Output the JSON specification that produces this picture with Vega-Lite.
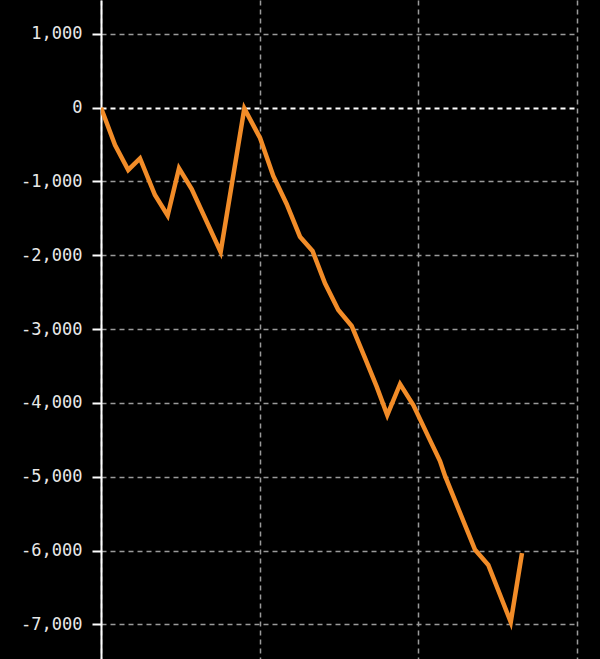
{
  "$schema": "https://vega.github.io/schema/vega-lite/v6.json",
  "autosize": "none",
  "width": 476,
  "height": 659,
  "padding": {"left": 101, "top": 0, "right": 23, "bottom": 0},
  "background": "#000000",
  "config": {"view": {"stroke": null}},
  "data": {
    "values": [
      {"t": 0.0, "v": 0},
      {"t": 1.06, "v": -505},
      {"t": 2.06, "v": -844},
      {"t": 2.95, "v": -688},
      {"t": 4.08, "v": -1183},
      {"t": 5.04, "v": -1461},
      {"t": 5.9, "v": -821},
      {"t": 6.86, "v": -1102},
      {"t": 9.05, "v": -1955},
      {"t": 10.84, "v": -10},
      {"t": 12.03, "v": -411},
      {"t": 13.03, "v": -925},
      {"t": 14.04, "v": -1305},
      {"t": 15.05, "v": -1748},
      {"t": 16.0, "v": -1942},
      {"t": 16.94, "v": -2379},
      {"t": 17.95, "v": -2741},
      {"t": 18.96, "v": -2958},
      {"t": 19.97, "v": -3392},
      {"t": 20.85, "v": -3780},
      {"t": 21.65, "v": -4164},
      {"t": 22.62, "v": -3744},
      {"t": 23.62, "v": -4028},
      {"t": 24.88, "v": -4504},
      {"t": 25.64, "v": -4787},
      {"t": 26.02, "v": -4990},
      {"t": 28.29, "v": -5990},
      {"t": 29.29, "v": -6195},
      {"t": 30.99, "v": -6969},
      {"t": 31.84, "v": -6035}
    ]
  },
  "mark": {"type": "line", "color": "#f28c28", "strokeWidth": 4.5, "strokeJoin": "miter", "clip": true},
  "encoding": {
    "x": {
      "field": "t",
      "type": "quantitative",
      "scale": {"domain": [0, 36], "nice": false, "zero": false},
      "axis": {
        "values": [0, 12, 24, 36],
        "labels": false,
        "ticks": false,
        "domain": false,
        "title": null,
        "grid": true,
        "gridColor": "#9a9a9a",
        "gridDash": [5, 4],
        "gridWidth": 1.5
      }
    },
    "y": {
      "field": "v",
      "type": "quantitative",
      "scale": {"domain": [-7470, 1459], "nice": false, "zero": false},
      "axis": {
        "values": [1000, 0, -1000, -2000, -3000, -4000, -5000, -6000, -7000],
        "format": ",.0f",
        "labelExpr": "replace(datum.label, '\u2212', '-')",
        "title": null,
        "labelFont": "DejaVu Sans Mono",
        "labelFontSize": 17,
        "labelColor": "#e8e8e8",
        "labelPadding": 10,
        "tickColor": "#ffffff",
        "tickSize": 9,
        "tickWidth": 2,
        "domainColor": "#ffffff",
        "domainWidth": 2,
        "grid": true,
        "gridColor": {"condition": {"test": "datum.value === 0", "value": "#ffffff"}, "value": "#9a9a9a"},
        "gridDash": [5, 4],
        "gridWidth": {"condition": {"test": "datum.value === 0", "value": 2}, "value": 1.5}
      }
    }
  }
}
